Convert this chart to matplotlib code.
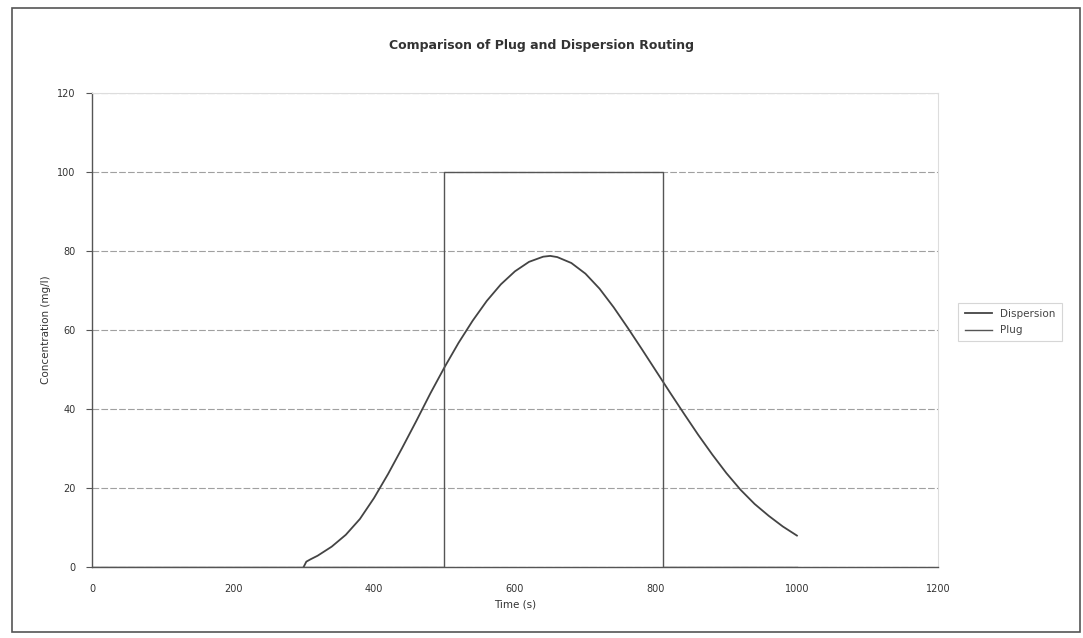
import matplotlib.pyplot as plt
from matplotlib.patches import Rectangle

# dispersion routing result (concentration vs time)
disp_time = [300, 304, 310, 320, 340, 360, 380, 400, 420, 440, 460, 480, 500,
             520, 540, 560, 580, 600, 620, 640, 650, 660, 680, 700, 720, 740,
             760, 780, 800, 820, 840, 860, 880, 900, 920, 940, 960, 980, 1000]
disp_conc = [0, 1.4, 2.0, 2.9, 5.2, 8.2, 12.2, 17.5, 23.6, 30.2, 37.0, 44.0, 50.6,
             56.8, 62.4, 67.4, 71.6, 74.9, 77.3, 78.6, 78.8, 78.5, 77.0, 74.3, 70.5, 65.8,
             60.6, 55.2, 49.7, 44.2, 38.8, 33.5, 28.5, 23.8, 19.6, 16.0, 13.0, 10.3, 8.0]

# plug routing result
plug_time = [0, 500, 500, 810, 810, 1000]
plug_conc = [0, 0, 100, 100, 0, 0]

x_ticks = [0, 200, 400, 600, 800, 1000, 1200]
y_ticks = [0, 20, 40, 60, 80, 100, 120]

fig = plt.figure(figsize=(10.83, 6.38), dpi=100)
ax = fig.add_axes([0.085, 0.111, 0.781, 0.743])

# outer chart border
fig.patches.append(Rectangle((0.011, 0.009), 0.986, 0.979, transform=fig.transFigure,
                             fill=False, edgecolor='#555555', linewidth=1.2))

ax.plot(disp_time, disp_conc, color='#444444', linewidth=1.3, label='Dispersion')
ax.plot(plug_time, plug_conc, color='#555555', linewidth=1.0, label='Plug')

ax.set_xlim(0, 1200)
ax.set_ylim(0, 120)
ax.set_xticks(x_ticks)
ax.set_yticks(y_ticks)
ax.grid(axis='y', color='#a0a0a0', linewidth=0.8, linestyle=(0, (6, 2)))
ax.set_axisbelow(True)

for side in ['top', 'right']:
    ax.spines[side].set_color('#dddddd')
    ax.spines[side].set_linewidth(0.8)
for side in ['left', 'bottom']:
    ax.spines[side].set_color('#555555')
    ax.spines[side].set_linewidth(1.0)

ax.tick_params(axis='y', length=4, width=0.8, color='#555555', labelsize=7,
               labelcolor='#333333', pad=8)
ax.tick_params(axis='x', length=0, labelsize=7, labelcolor='#333333', pad=12)

fig.text(0.5, 0.929, 'Comparison of Plug and Dispersion Routing', fontsize=9,
         fontweight='bold', color='#333333', ha='center', va='center')
ax.set_xlabel('Time (s)', fontsize=7.5, color='#333333', labelpad=4)
ax.set_ylabel('Concentration (mg/l)', fontsize=7.5, color='#333333', labelpad=4)

leg = ax.legend(loc='center left', bbox_to_anchor=(1.018, 0.517), fontsize=7.5,
                frameon=True, fancybox=False, handlelength=2.6, borderpad=0.6,
                labelspacing=0.6)
leg.get_frame().set_edgecolor('#cccccc')
leg.get_frame().set_linewidth(0.8)
for t in leg.get_texts():
    t.set_color('#444444')

fig.savefig('out.png', dpi=100)
